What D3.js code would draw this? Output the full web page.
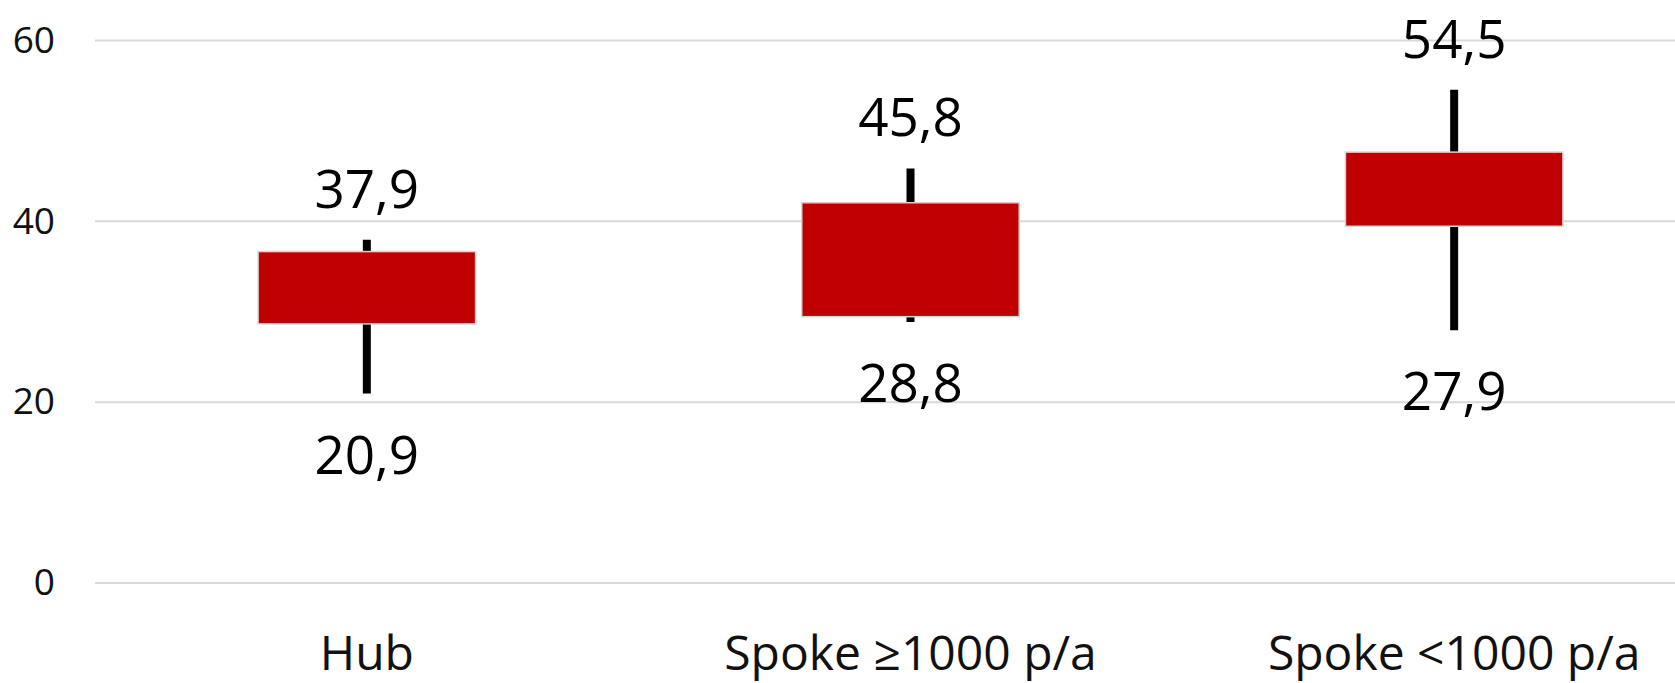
<!DOCTYPE html>
<html>
<head>
<meta charset="utf-8">
<script src="https://cdn.jsdelivr.net/npm/d3@7/dist/d3.min.js"></script>
<style>
  html, body { margin: 0; padding: 0; background: #fff; }
  svg { display: block; }
</style>
</head>
<body>
<svg id="chart" width="1675" height="683"></svg>
<script>
// ---- data ----
const categories = ["Hub", "Spoke \u22651000 p/a", "Spoke <1000 p/a"];
const lowValues  = [20.9, 28.8, 27.9];   // whisker min
const q1Values   = [28.6, 29.4, 39.4];   // box bottom
const q3Values   = [36.6, 42.0, 47.6];   // box top
const highValues = [37.9, 45.8, 54.5];   // whisker max
const lowLabels  = ["20,9", "28,8", "27,9"];
const highLabels = ["37,9", "45,8", "54,5"];
const yTicks     = [0, 20, 40, 60];

const rows = categories.map((c, i) => ({
  cat: c, low: lowValues[i], q1: q1Values[i], q3: q3Values[i], high: highValues[i],
  lowLabel: lowLabels[i], highLabel: highLabels[i]
}));

const W = 1675, H = 683;
const plotLeft = 95, plotRight = 1726;
const svg = d3.select("#chart");

const x = d3.scaleBand().domain(categories).range([plotLeft, plotRight])
  .paddingInner(0.6).paddingOuter(0.3);
const y = d3.scaleLinear().domain([0, 60]).range([582.5, 40]);

// gridlines + y tick labels
const yAxis = svg.append("g")
  .attr("transform", `translate(${plotLeft},0)`)
  .call(d3.axisLeft(y).tickValues(yTicks).tickSize(-(W - plotLeft)).tickPadding(40));
yAxis.select(".domain").remove();
yAxis.selectAll(".tick line").attr("stroke", "#d9d9d9").attr("stroke-width", 2);
yAxis.selectAll(".tick text")
  .attr("font-family", "'Open Sans', sans-serif")
  .attr("font-size", 37)
  .attr("fill", "#111")
  .attr("dy", "0.33em");

// category labels
const xAxis = svg.append("g")
  .attr("transform", `translate(0,${y(0)})`)
  .call(d3.axisBottom(x).tickSize(0).tickPadding(0));
xAxis.select(".domain").remove();
xAxis.selectAll(".tick text")
  .attr("font-family", "'Open Sans', sans-serif")
  .attr("font-size", 48)
  .attr("fill", "#111")
  .attr("dy", null)
  .attr("y", 87.5);

const cx = d => x(d.cat) + x.bandwidth() / 2;

// whiskers
svg.append("g").selectAll("line").data(rows).join("line")
  .attr("x1", cx).attr("x2", cx)
  .attr("y1", d => y(d.high)).attr("y2", d => y(d.low))
  .attr("stroke", "#000").attr("stroke-width", 8);

// boxes
svg.append("g").selectAll("rect").data(rows).join("rect")
  .attr("x", d => x(d.cat))
  .attr("width", x.bandwidth())
  .attr("y", d => y(d.q3))
  .attr("height", d => y(d.q1) - y(d.q3))
  .attr("fill", "#c00000")
  .attr("stroke", "#d4d4d4")
  .attr("stroke-width", 1.5);

// labels
const lab = svg.append("g")
  .attr("font-family", "'Open Sans', sans-serif")
  .attr("font-size", 53)
  .attr("fill", "#000")
  .attr("text-anchor", "middle");
lab.selectAll("text.hi").data(rows).join("text").attr("class", "hi")
  .attr("x", cx).attr("y", d => y(d.high) - 32).text(d => d.highLabel);
lab.selectAll("text.lo").data(rows).join("text").attr("class", "lo")
  .attr("x", cx).attr("y", d => y(d.low) + 80).text(d => d.lowLabel);
</script>
</body>
</html>
